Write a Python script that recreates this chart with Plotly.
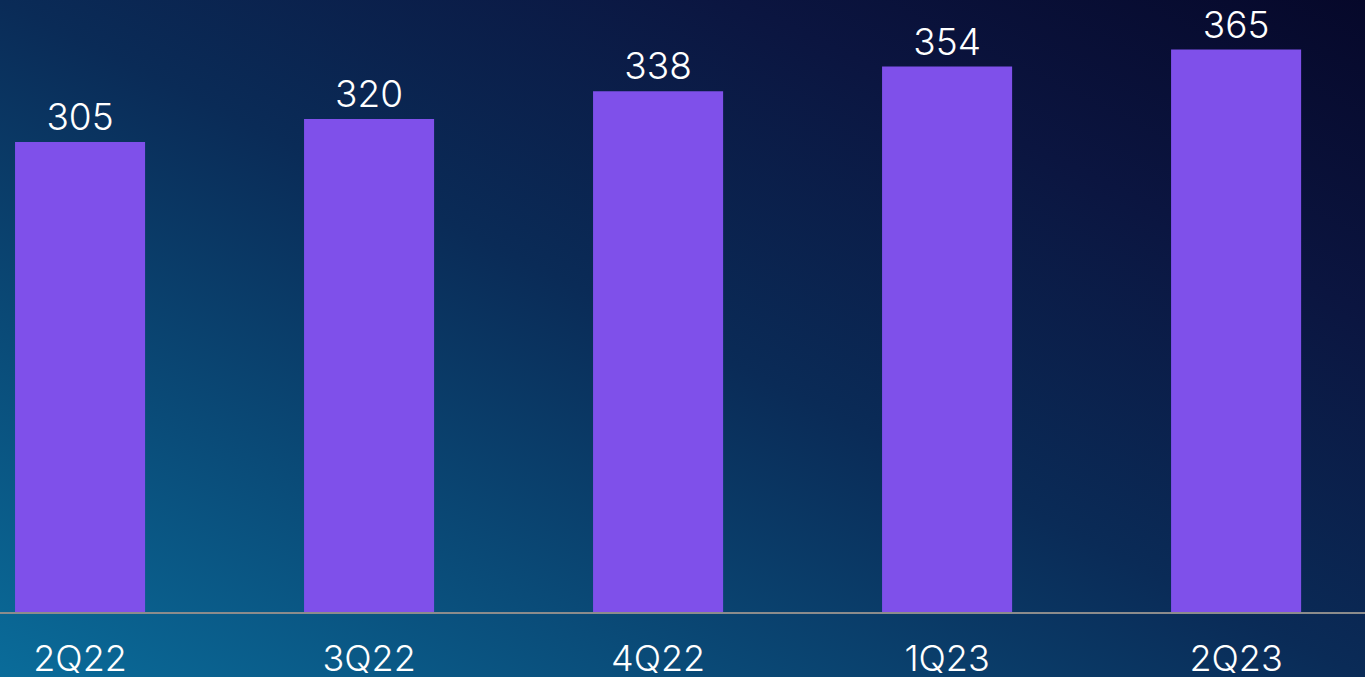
import base64
import plotly.graph_objects as go

# Quarterly values
quarters = ["2Q22", "3Q22", "4Q22", "1Q23", "2Q23"]
values = [305, 320, 338, 354, 365]

BAR_COLOR = "#7F50EA"
TEXT_COLOR = "#FFFFFF"
FONT = "Inter"

# Diagonal gradient backdrop (teal at lower-left fading to deep navy at upper-right)
svg = """<svg xmlns='http://www.w3.org/2000/svg' width='1365' height='677' viewBox='0 0 1365 677' preserveAspectRatio='none'>
<defs><linearGradient id='g' x1='0' y1='1' x2='1' y2='0'>
<stop offset='0' stop-color='#0A6C9A'/>
<stop offset='0.5' stop-color='#0A2B57'/>
<stop offset='0.77' stop-color='#0B1540'/>
<stop offset='1' stop-color='#06082A'/>
</linearGradient></defs>
<rect x='0' y='0' width='1365' height='677' fill='url(#g)'/>
</svg>"""
bg_uri = "data:image/svg+xml;base64," + base64.b64encode(svg.encode()).decode()

W, H = 1365, 677
MB = 65
plot_h = H - MB

fig = go.Figure(
    go.Bar(
        x=quarters,
        y=values,
        width=0.45,
        marker=dict(color=BAR_COLOR, line=dict(width=0)),
        text=[str(v) for v in values],
        textposition="outside",
        cliponaxis=False,
        textfont=dict(family=FONT, size=37, color=TEXT_COLOR, weight=300),
        hoverinfo="skip",
    )
)

fig.add_layout_image(
    dict(
        source=bg_uri,
        xref="paper",
        yref="paper",
        x=0,
        y=1,
        sizex=1,
        sizey=1 + MB / plot_h,
        xanchor="left",
        yanchor="top",
        sizing="stretch",
        layer="below",
    )
)

fig.update_layout(
    width=W,
    height=H,
    margin=dict(l=0, r=0, t=0, b=MB, autoexpand=False),
    paper_bgcolor="#0A2B57",
    plot_bgcolor="rgba(0,0,0,0)",
    showlegend=False,
    uniformtext=dict(mode=False),
    xaxis=dict(
        type="category",
        range=[-0.277, 4.446],
        automargin=False,
        showgrid=False,
        zeroline=False,
        showline=True,
        linecolor="#8C8C8C",
        linewidth=2,
        ticks="outside",
        ticklen=14,
        tickcolor="rgba(0,0,0,0)",
        tickfont=dict(family=FONT, size=36, color=TEXT_COLOR, weight=300),
        fixedrange=True,
    ),
    yaxis=dict(
        range=[0, 397.2],
        visible=False,
        automargin=False,
        showgrid=False,
        zeroline=False,
        fixedrange=True,
    ),
)

fig.write_html("out.html", config={"displayModeBar": False})
